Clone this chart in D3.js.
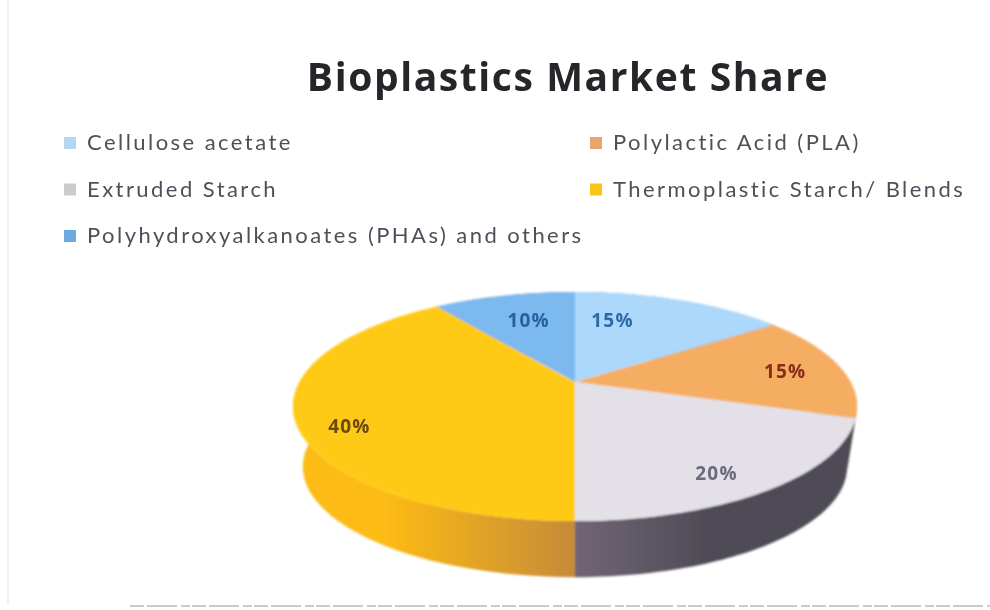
<!DOCTYPE html>
<html><head><meta charset="utf-8">
<script src="https://cdn.jsdelivr.net/npm/d3@7"></script>
<style>html,body{margin:0;background:#fff}svg{display:block}</style></head>
<body><svg id="c" width="990" height="610"></svg>
<script>
const title = "Bioplastics Market Share";
const categories = ["Cellulose acetate","Polylactic Acid (PLA)","Extruded Starch","Thermoplastic Starch/ Blends","Polyhydroxyalkanoates (PHAs) and others"];
const shares = [15,15,20,40,10];
const legendColors = ["#b4d6ef","#e5a868","#cbcbcb","#f6c516","#6da9dd"];
const faceColors = ["#acd8fb","#f5ad62","#e3e0e8","#ffca14","#7bb9ef"];
const sideLeft = ["#7fa5c4","#c08a4c","#716575","#fdbb14","#5f90bd"];
const sideRight = ["#7fa5c4","#c08a4c","#504c57","#c58b38","#5f90bd"];
const labelColors = ["#2f6ba6","#8a2b1c","#6b6b7a","#6b4a12","#2a60a0"];
const labelTurn = [0.25,0.53,0.56,0.443,0.54];
const labelRadius = [0.664,0.786,0.83,0.84,0.672];

const svg = d3.select("#c");
const defs = svg.append("defs");
const blur = defs.append("filter").attr("id","soft").attr("x","-5%").attr("y","-20%").attr("width","110%").attr("height","140%");
blur.append("feGaussianBlur").attr("stdDeviation",0.6);
const blurPie = defs.append("filter").attr("id","softPie").attr("x","-5%").attr("y","-5%").attr("width","110%").attr("height","110%");
blurPie.append("feGaussianBlur").attr("stdDeviation",1);

// scan edges
svg.append("line").attr("x1",8).attr("x2",8).attr("y1",0).attr("y2",605).attr("stroke","#ececec").attr("stroke-width",1.5);
svg.append("line").attr("x1",130).attr("x2",990).attr("y1",606).attr("y2",606).attr("stroke","#bbb").attr("stroke-width",1.5).attr("stroke-dasharray","14 3 30 4 9 2");

svg.append("text").text(title).attr("x",568).attr("y",91).attr("text-anchor","middle")
  .attr("font-family","'Open Sans'").attr("font-weight",700).attr("font-size",39).attr("letter-spacing",1.6).attr("fill","#26262b").attr("filter","url(#soft)");

// legend
const legendX = d3.scaleOrdinal().domain([0,1]).range([64,590]);
const legendY = d3.scalePoint().domain([0,1,2]).range([143,236]);
const lg = svg.append("g").attr("filter","url(#soft)").selectAll("g").data(categories).join("g")
  .attr("transform",(d,i)=>`translate(${legendX(i===4?0:i%2)},${legendY(Math.floor(i/2))})`);
lg.append("rect").attr("x",0).attr("y",-6).attr("width",12).attr("height",12).attr("fill",(d,i)=>legendColors[i]);
lg.append("text").text(d=>d).attr("x",23).attr("y",7).attr("font-family","Lato").attr("font-size",22)
  .attr("letter-spacing",2.45).attr("fill","#50505a");

// perspective pie
const cx=575, cy=382, R=275.5, Rv=109.3, k=-0.214, depthScale=0.965, depthShift=61;
const project=(a,r,s=1,dy=0)=>{
  const X=r*Math.sin(a), Y=-r*Math.cos(a), w=1+k*Y;
  return [cx+s*R*X/w, cy+dy+s*Rv*Y/w];
};
const pie=d3.pie().sort(null).value(d=>d)(shares);
const line=d3.line();
const arcPts=(d,s,dy)=>d3.range(0,61).map(j=>project(d.startAngle+(d.endAngle-d.startAngle)*j/60,1,s,dy));
const pieG=svg.append("g").attr("filter","url(#softPie)");
pie.forEach((d,i)=>{
  const g=defs.append("linearGradient").attr("id","side"+i).attr("gradientUnits","userSpaceOnUse")
    .attr("x1",i===2?cx:cx-190).attr("x2",i===2?cx+130:cx).attr("y1",0).attr("y2",0);
  g.append("stop").attr("offset",0).attr("stop-color",sideLeft[i]);
  g.append("stop").attr("offset",1).attr("stop-color",sideRight[i]);
});
pieG.selectAll("path.side").data(pie).join("path").attr("class","side")
  .attr("d",d=>line(arcPts(d,1,0).concat(arcPts(d,depthScale,depthShift).reverse()))+"Z")
  .attr("fill",(d,i)=>`url(#side${i})`);
pieG.selectAll("path.face").data(pie).join("path").attr("class","face")
  .attr("d",d=>line([[cx,cy]].concat(arcPts(d,1,0)))+"Z")
  .attr("fill",(d,i)=>faceColors[i]);

svg.append("g").attr("filter","url(#soft)").selectAll("text").data(pie).join("text")
  .text(d=>d.value+"%")
  .attr("transform",(d,i)=>{const p=project(d.startAngle+(d.endAngle-d.startAngle)*labelTurn[i],labelRadius[i]);return `translate(${p[0]},${p[1]})`;})
  .attr("text-anchor","middle").attr("dy","0.35em")
  .attr("font-family","'Open Sans'").attr("font-weight",700).attr("font-size",19).attr("letter-spacing",1.2)
  .attr("fill",(d,i)=>labelColors[i]);
</script></body></html>
